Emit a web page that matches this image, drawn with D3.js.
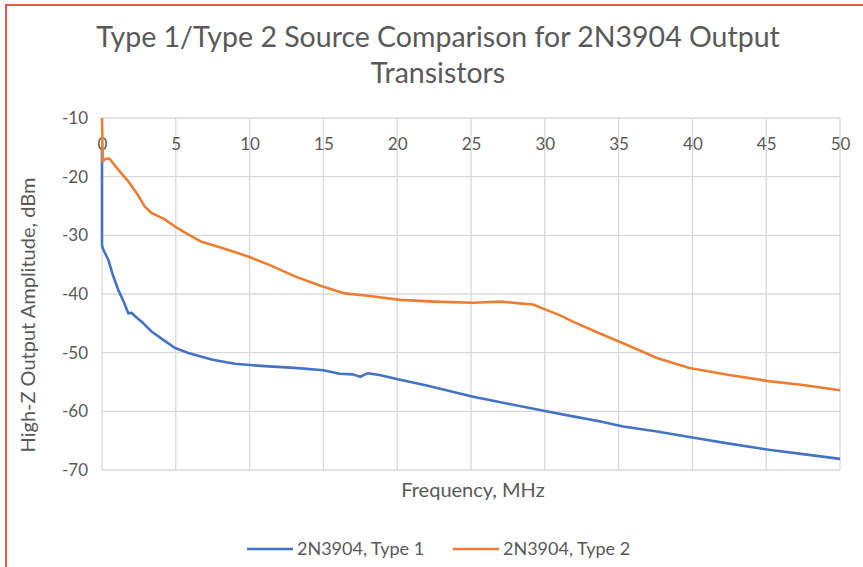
<!DOCTYPE html>
<html>
<head>
  <meta charset="utf-8">
  <title>Type 1/Type 2 Source Comparison</title>
  <style>
    body { margin: 0; background: #fff; }
    svg text { font-family: Lato, sans-serif; fill: #595959; }
  </style>
</head>
<body>
  <svg id="chart" width="863" height="567"></svg>
  <script src="https://d3js.org/d3.v7.min.js"></script>
  <script>
    // data
    const type1Freq = [0, 0, 0.05, 0.2, 0.43, 0.7, 1.1, 1.5, 1.78, 2.0, 2.24, 2.8, 3.36, 4.2, 4.95, 5.8, 6.75, 7.5, 9.0, 11, 13.07, 15, 16.1, 17.0, 17.5, 18.0, 18.8, 20.2, 22, 25.15, 27.5, 30.1, 32, 33.7, 35.3, 37.5, 40.3, 42.5, 45.3, 47.5, 50];
    const type1Amp = [-15, -31.6, -32.2, -33.0, -34.2, -36.5, -39.3, -41.5, -43.3, -43.2, -43.8, -45.0, -46.4, -47.9, -49.2, -50.0, -50.7, -51.2, -51.9, -52.3, -52.6, -53.0, -53.6, -53.7, -54.1, -53.5, -53.8, -54.6, -55.6, -57.5, -58.7, -60.0, -60.9, -61.7, -62.6, -63.4, -64.6, -65.5, -66.6, -67.3, -68.1];
    const type2Freq = [0, 0.05, 0.2, 0.5, 1.0, 1.78, 2.4, 2.9, 3.36, 4.2, 4.95, 5.8, 6.75, 8.3, 9.9, 11.5, 13.07, 14.8, 16.45, 18, 20.2, 22.5, 25.15, 27, 28.3, 29.2, 30.1, 31, 31.9, 33.7, 35.3, 37.6, 39.8, 42.5, 45.3, 47.5, 50];
    const type2Amp = [-10, -17.4, -17.0, -16.9, -18.5, -20.8, -23.0, -25.1, -26.2, -27.2, -28.5, -29.8, -31.1, -32.3, -33.6, -35.2, -37.0, -38.6, -39.9, -40.3, -41.0, -41.3, -41.5, -41.3, -41.6, -41.8, -42.7, -43.6, -44.7, -46.7, -48.4, -50.9, -52.6, -53.8, -54.9, -55.5, -56.4];
    const xTicks = [0, 5, 10, 15, 20, 25, 30, 35, 40, 45, 50];
    const yTicks = [-10, -20, -30, -40, -50, -60, -70];
    const seriesNames = ["2N3904, Type 1", "2N3904, Type 2"];
    const seriesColors = ["#4472c4", "#ed7d31"];

    const svg = d3.select("#chart");

    // outer frame (red border, runs off right/bottom)
    svg.append("rect")
      .attr("x", 6).attr("y", 5)
      .attr("width", 880).attr("height", 600)
      .attr("fill", "none")
      .attr("stroke", "#e8574a")
      .attr("stroke-width", 2);

    const plotLeft = 102, plotRight = 840, plotTop = 118, plotBottom = 470;

    const x = d3.scaleLinear().domain([0, 50]).range([plotLeft, plotRight]);
    const y = d3.scaleLinear().domain([-70, -10]).range([plotBottom, plotTop]);

    // grid
    svg.append("g")
      .selectAll("line")
      .data(xTicks)
      .join("line")
      .attr("x1", d => x(d)).attr("x2", d => x(d))
      .attr("y1", plotTop).attr("y2", plotBottom)
      .attr("stroke", "#d9d9d9").attr("stroke-width", 1.3);

    svg.append("g")
      .selectAll("line")
      .data(yTicks)
      .join("line")
      .attr("x1", plotLeft).attr("x2", plotRight)
      .attr("y1", d => y(d)).attr("y2", d => y(d))
      .attr("stroke", "#d9d9d9").attr("stroke-width", 1.3);

    // axes labels (plain hyphen for negatives)
    const xAxis = d3.axisBottom(x).tickValues(xTicks).tickSize(0).tickPadding(20)
      .tickFormat(d => String(d));
    const gX = svg.append("g").attr("transform", `translate(0,${plotTop})`).call(xAxis);
    gX.select(".domain").remove();
    gX.attr("font-family", null);
    gX.selectAll("text").style("font-size", "17px");

    const yAxis = d3.axisLeft(y).tickValues(yTicks).tickSize(0).tickPadding(14)
      .tickFormat(d => String(d));
    const gY = svg.append("g").attr("transform", `translate(${plotLeft},0)`).call(yAxis);
    gY.select(".domain").remove();
    gY.attr("font-family", null);
    gY.selectAll("text").style("font-size", "17px");

    // lines
    const line = d3.line().x(d => x(d[0])).y(d => y(d[1]));
    const series = [
      d3.zip(type1Freq, type1Amp),
      d3.zip(type2Freq, type2Amp)
    ];
    svg.append("g")
      .selectAll("path")
      .data(series)
      .join("path")
      .attr("d", line)
      .attr("fill", "none")
      .attr("stroke", (d, i) => seriesColors[i])
      .attr("stroke-width", 2.6)
      .attr("stroke-linejoin", "round");

    // titles
    svg.append("text")
      .attr("x", 438).attr("y", 47)
      .attr("text-anchor", "middle")
      .style("font-size", "28.5px")
      .text("Type 1/Type 2 Source Comparison for 2N3904 Output");
    svg.append("text")
      .attr("x", 438).attr("y", 83)
      .attr("text-anchor", "middle")
      .style("font-size", "28.5px")
      .text("Transistors");

    svg.append("text")
      .attr("x", 473).attr("y", 497)
      .attr("text-anchor", "middle")
      .style("font-size", "20px")
      .text("Frequency, MHz");

    svg.append("text")
      .attr("transform", "translate(35,315) rotate(-90)")
      .attr("text-anchor", "middle")
      .style("font-size", "20px")
      .text("High-Z Output Amplitude, dBm");

    // legend
    const legend = svg.append("g")
      .selectAll("g")
      .data(seriesNames)
      .join("g")
      .attr("transform", (d, i) => `translate(${247 + i * 206},549)`);
    legend.append("line")
      .attr("x1", 0).attr("x2", 46)
      .attr("stroke", (d, i) => seriesColors[i])
      .attr("stroke-width", 2.6);
    legend.append("text")
      .attr("x", 50).attr("dy", "0.35em")
      .style("font-size", "18px")
      .text(d => d);
  </script>
</body>
</html>
